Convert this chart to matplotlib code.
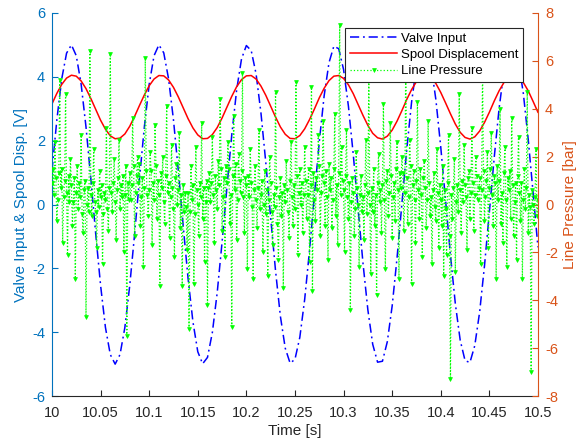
import numpy as np
import matplotlib
matplotlib.use('Agg')
import matplotlib.pyplot as plt

plt.rcParams['font.family'] = ['Liberation Sans', 'DejaVu Sans']
plt.rcParams['axes.unicode_minus'] = False

# valve input and spool displacement, sampled every 5 ms from t = 10.0 s
valve_input = [
    1.05, 2.65, 3.93, 4.74, 5.00, 4.66, 3.77, 2.43, 0.80, -0.92,
    -2.53, -3.85, -4.70, -5.00, -4.70, -3.85, -2.54, -0.93, 0.79, 2.42,
    3.76, 4.66, 5.00, 4.75, 3.93, 2.65, 1.06, -0.67, -2.31, -3.67,
    -4.61, -4.99, -4.79, -4.01, -2.76, -1.18, 0.54, 2.19, 3.59, 4.56,
    4.98, 4.82, 4.09, 2.87, 1.31, -0.41, -2.07, -3.50, -4.50, -4.97,
    -4.85, -4.16, -2.97, -1.43, 0.28, 1.96, 3.40, 4.44, 4.96, 4.88,
    4.23, 3.08, 1.56, -0.15, -1.84, -3.30, -4.38, -4.94, -4.91, -4.30,
    -3.18, -1.68, 0.02, 1.72, 3.21, 4.32, 4.92, 4.93, 4.36, 3.28,
    1.80, 0.11, -1.59, -3.11, -4.25, -4.89, -4.95, -4.42, -3.37, -1.92,
    -0.24, 1.47, 3.00, 4.18, 4.86, 4.97, 4.48, 3.47, 2.04, 0.37,
    -1.34,
]
spool_disp = [
    3.15, 3.48, 3.76, 3.96, 4.05, 4.02, 3.87, 3.63, 3.32, 2.98,
    2.64, 2.36, 2.15, 2.06, 2.08, 2.21, 2.45, 2.76, 3.10, 3.43,
    3.72, 3.93, 4.04, 4.03, 3.90, 3.67, 3.37, 3.03, 2.69, 2.40,
    2.18, 2.06, 2.07, 2.19, 2.41, 2.71, 3.05, 3.39, 3.69, 3.91,
    4.03, 4.04, 3.93, 3.71, 3.42, 3.08, 2.74, 2.43, 2.20, 2.07,
    2.06, 2.16, 2.37, 2.66, 2.99, 3.34, 3.64, 3.88, 4.02, 4.04,
    3.95, 3.75, 3.47, 3.13, 2.79, 2.48, 2.23, 2.09, 2.05, 2.14,
    2.33, 2.61, 2.94, 3.29, 3.60, 3.85, 4.01, 4.05, 3.97, 3.79,
    3.51, 3.18, 2.84, 2.52, 2.26, 2.10, 2.05, 2.12, 2.30, 2.57,
    2.89, 3.24, 3.56, 3.82, 3.99, 4.05, 3.99, 3.82, 3.56, 3.23,
    2.89,
]

# line pressure [bar], sampled every 1 ms from t = 10.0 s
line_pressure = [
    0.9, 1.5, 0.4, 2.6, 1.1, -0.7, 0.2, 1.3, 5.2, 0.7, 1.5, -1.6, 0.3, 1.0, 4.6, 0.5, -2.1, 1.2, 0.1, 1.9,
    0.8, -0.9, 0.1, 1.1, -3.1, 0.5, 1.6, -0.2, 0.9, 0.3, 2.9, -0.4, -1.2, 0.6, 1.0, -4.7, 0.0, 0.7, -0.3, 6.4,
    0.4, -0.5, 0.9, 2.3, 0.1, -0.3, -1.8, 0.6, -0.1, 1.4, 0.3, 0.8, -2.5, -0.4, 0.5, 0.2, 3.2, -0.2, -1.1, 0.7,
    6.3, 0.5, -0.3, 0.9, 1.9, 0.1, -1.5, 0.6, 1.1, 2.7, -0.2, 0.8, 0.3, 1.2, -2.0, 0.4, 1.6, -5.5, 0.9, 0.2,
    1.3, 0.2, 0.8, 3.6, 1.6, -1.3, 0.5, 1.2, 2.0, 0.9, 1.7, -0.9, 0.3, 1.1, -2.6, 0.7, 6.1, 1.4, 0.4, -0.5,
    0.6, 2.2, 1.4, -1.7, 0.9, 0.2, 3.3, 1.6, -0.6, 1.0, 0.4, -3.4, 1.3, 0.7, 2.0, 0.1, -0.8, 1.2, 4.1, 0.5,
    0.9, -1.4, 0.3, 2.5, 0.7, -0.2, -2.2, 1.1, 1.7, 0.0, 0.6, 3.0, -1.0, 0.4, -3.4, 0.8, -0.3, 0.5, -0.1, -1.9,
    0.5, -5.2, -0.3, 1.6, 0.2, 0.8, -3.3, -0.4, 2.4, 0.6, 0.0, -1.3, 0.9, 0.3, 3.4, -0.6, 0.7, -2.4, 0.1, 1.0,
    -4.2, 0.7, 1.3, 0.1, 0.9, 2.8, 0.4, -1.6, 1.2, 0.6, -0.2, 1.8, 0.8, 4.4, 1.5, -1.1, 0.3, 1.1, -2.2, 1.6,
    0.9, 2.6, 1.5, -0.8, 0.4, -5.1, 1.2, 3.7, 0.6, 1.7, -1.5, 0.2, 2.1, 1.0, 0.5, 1.4, 5.5, 0.3, -1.2, 1.1,
    0.8, -2.7, 1.2, 0.3, 2.3, 0.9, -0.1, -3.1, 0.6, 1.6, 0.2, -1.0, 0.7, 3.1, -0.2, 0.4, 1.0, -2.0, 0.0, 1.4,
    -0.4, 0.6, -3.0, 0.2, 2.0, 0.9, -0.3, -1.7, 0.4, -0.1, 4.7, 0.7, -0.8, -2.3, 0.3, 1.1, -0.5, 0.5, -3.5, 0.8,
    0.1, 1.8, 0.6, -0.3, -1.4, 1.0, 2.6, 0.3, -0.9, 0.8, -0.2, 5.1, 1.2, -2.1, 0.5, 1.5, 0.0, 0.9, -1.2, 0.4,
    2.4, 1.0, -0.6, 0.4, 1.5, -2.4, 0.8, 4.9, -3.6, 1.3, 0.2, -0.7, 1.1, 0.6, 2.9, 1.6, -1.3, 0.5, 1.2, 3.5,
    0.9, -0.9, 1.4, 0.3, -2.3, 1.7, 0.6, 1.1, -1.0, 0.2, 1.5, 3.8, -0.5, 0.8, -1.7, 1.3, 7.5, 0.4, 2.4, 1.0,
    0.6, -2.0, 1.2, 3.1, 0.3, -0.6, 0.9, -4.4, 0.1, 1.1, 0.5, -1.3, -0.2, 2.2, 0.7, 0.0, -2.6, 0.4, 1.2, -0.3,
    0.3, -1.5, 0.8, 2.7, -0.4, 0.5, 5.3, 0.0, -2.9, 0.7, -0.3, 1.5, -0.9, 0.4, -3.8, 0.9, 2.1, 0.1, 0.6, -1.2,
    0.8, 4.2, 0.2, -2.7, 1.0, 1.4, -0.5, 0.5, 3.4, 1.2, -1.4, 0.3, 0.9, -0.7, 1.5, 2.6, 0.6, -3.1, 1.3, 0.7,
    2.0, 1.3, -1.1, 0.5, 6.0, 1.1, -0.8, 0.3, 2.7, 1.6, -3.3, 0.8, 1.4, 0.2, -1.6, 1.0, 4.3, 0.6, -0.6, 1.5,
    0.4, -2.2, 1.1, 1.8, 0.7, -1.0, 0.2, 3.5, 0.9, -0.5, 0.3, -2.5, 0.6, 1.3, -0.1, -0.7, 2.3, 0.5, -1.8, 0.8,
    0.2, -0.9, 1.6, -3.0, 0.6, -0.2, -2.1, 0.9, 2.9, -1.3, -7.3, 0.4, -0.6, 0.7, 1.9, -2.8, 0.1, 0.8, -0.3, 4.6,
    0.6, -1.2, 1.0, 0.1, 2.5, 0.8, 0.3, -1.9, 1.1, 1.4, -0.6, 0.5, 3.2, 0.9, -1.1, 0.4, 2.0, 1.2, 0.2, 0.7,
    1.1, -2.5, 0.6, 5.6, 1.4, -0.7, 0.3, 1.0, 2.2, -1.8, 0.7, 1.5, 3.0, 0.4, -0.9, 1.2, 0.9, -3.1, 1.6, 0.2,
    1.0, 4.0, -0.8, 0.5, -1.6, 1.3, 2.4, 0.2, -2.6, 1.1, 0.6, 1.4, -0.6, 3.6, 0.8, -1.3, 0.1, 0.9, -2.3, 1.2,
    2.8, 0.5, -0.7, 0.9, -3.1, 0.2, 1.5, -0.2, 0.7, 4.7, -1.2, 0.4, -0.1, -7.0, 0.6, 0.0, -0.8, 0.3, 2.3, -0.5,
    0.2,
]

t_slow = np.linspace(10.0, 10.5, len(valve_input))
t_fast = np.linspace(10.0, 10.5, len(line_pressure))

left_col = '#0072BD'
right_col = '#D95319'
dark = '#262626'

fig = plt.figure(figsize=(5.86, 4.47), dpi=100)
ax = fig.add_axes([0.0887, 0.114, 0.8293, 0.857])
ax2 = ax.twinx()

l1, = ax.plot(t_slow, valve_input, color='b', linestyle=(0, (6, 2.5, 1.2, 2.5)), lw=1.1,
              label='Valve Input')
l2, = ax.plot(t_slow, spool_disp, color='r', lw=1.1, label='Spool Displacement')
l3, = ax2.plot(t_fast, line_pressure, color=(0, 1, 0), linestyle=':', lw=0.9,
               marker='v', markersize=2.8, markeredgewidth=0.5, label='Line Pressure')

ax.set_xlim(10, 10.5)
ax.set_ylim(-6, 6)
ax2.set_ylim(-8, 8)
ax.set_xticks([10, 10.05, 10.1, 10.15, 10.2, 10.25, 10.3, 10.35, 10.4, 10.45, 10.5])
ax.set_xticklabels(['10', '10.05', '10.1', '10.15', '10.2', '10.25', '10.3', '10.35',
                    '10.4', '10.45', '10.5'])
ax.set_yticks(range(-6, 7, 2))
ax2.set_yticks(range(-8, 9, 2))

for a in (ax, ax2):
    a.spines['top'].set_visible(False)
ax.spines['right'].set_visible(False)
ax2.spines['left'].set_visible(False)
ax2.spines['bottom'].set_visible(False)
ax.spines['left'].set_color(left_col)
ax2.spines['right'].set_color(right_col)
ax.spines['bottom'].set_color(dark)

ax.tick_params(axis='y', colors=left_col, direction='in', labelsize=10.5, length=4, pad=5)
ax.tick_params(axis='x', colors=dark, direction='in', labelsize=10.5, length=4, pad=7)
ax2.tick_params(axis='y', colors=right_col, direction='in', labelsize=10.5, length=4, pad=5)

ax.set_xlabel('Time [s]', fontsize=11, color=dark, labelpad=3)
ax.set_ylabel('Valve Input & Spool Disp. [V]', fontsize=11, color=left_col, labelpad=3)
ax2.set_ylabel('Line Pressure [bar]', fontsize=11, color=right_col, labelpad=4)

leg = ax2.legend(handles=[l1, l2, l3], loc='upper right', bbox_to_anchor=(0.969, 0.961),
                 borderaxespad=0, fontsize=9.5, fancybox=False, framealpha=1, edgecolor=dark,
                 handlelength=3.6, borderpad=0.35, labelspacing=0.3, handletextpad=0.25)
leg.get_frame().set_linewidth(0.8)

fig.savefig('out.png', dpi=100)
